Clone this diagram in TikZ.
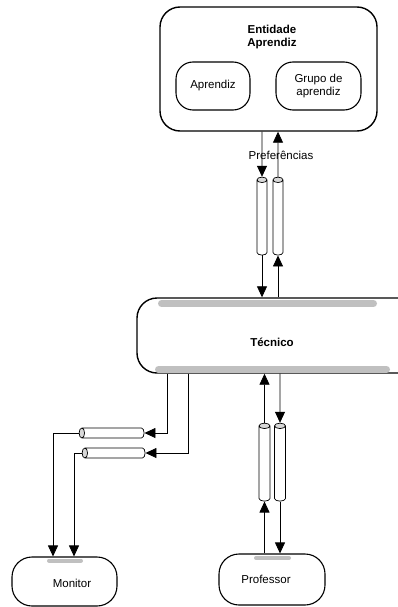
\documentclass[tikz,border=0pt]{standalone}
\usepackage{fontspec}
\setmainfont{Liberation Sans}
\usetikzlibrary{shapes.geometric, arrows.meta, positioning}
\definecolor{BarGray}{HTML}{C0C0C0}
\definecolor{CapGray}{HTML}{D8D8D8}
\tikzset{
    % Node styles
    entitybox/.style={
        rectangle,
        rounded corners=20pt,
        draw=black,
        line width=1.4pt,
        inner sep=0pt
    },
    rolebox/.style={
        rectangle,
        rounded corners=17pt,
        draw=black,
        line width=1.1pt,
        inner sep=0pt,
        align=center,
        font=\fontsize{11.5}{13}\selectfont
    },
    titletext/.style={
        align=center,
        inner sep=0pt,
        font=\fontsize{11.5}{13}\selectfont\bfseries
    },
    plaintext/.style={
        inner sep=0pt,
        font=\fontsize{11.5}{13}\selectfont
    },
    pipe/.style={
        cylinder,
        draw=black,
        line width=0.7pt,
        aspect=0.6,
        inner sep=4.5pt,
        cylinder uses custom fill,
        cylinder body fill=white,
        cylinder end fill=CapGray
    },
    vpipe/.style={pipe, shape border rotate=90, minimum width=#1, minimum height=78pt},
    vpipe/.default=10pt,
    hpipe/.style={pipe, shape border rotate=180, minimum width=10pt, minimum height=#1},
    % Arrow and bar styles
    myarrow/.style={
        -{Triangle[width=10pt,length=11pt]},
        line width=0.8pt
    },
    graybar/.style={
        draw=BarGray,
        line cap=round
    }
}
\begin{document}
\begin{tikzpicture}[x=1pt, y=-1pt]
    \useasboundingbox (0,0) rectangle (398,607);

    % Entidade aprendiz
    \node[entitybox, minimum width=217pt, minimum height=124pt] (entidade) at (268.5,69) {};
    \node[titletext] (entidadetitle) at (272,37) {Entidade\\Aprendiz};
    \node[rolebox, minimum width=74pt, minimum height=48pt] (aprendiz) at (213,86) {Aprendiz};
    \node[rolebox, minimum width=85pt, minimum height=48pt] (grupo) at (318.5,86) {Grupo de\\aprendiz};

    % Tecnico
    \node[entitybox, minimum width=290pt, minimum height=75pt] (tecnico) at (282,335.5) {};
    \node[titletext] (tecnicolabel) at (272,342) {Técnico};
    \draw[graybar, line width=7pt] (161.5,303.5) -- (373.5,303.5);
    \draw[graybar, line width=7pt] (158.5,369.5) -- (386.5,369.5);

    % Monitor and Professor
    \node[rolebox, rounded corners=20pt, minimum width=105pt, minimum height=49pt] (monitor) at (64.5,581.5) {};
    \node[plaintext] (monitorlabel) at (72,583) {Monitor};
    \draw[graybar, line width=4pt] (49,560.5) -- (81,560.5);
    \node[rolebox, rounded corners=20pt, minimum width=106pt, minimum height=51pt] (professor) at (272,579.5) {};
    \node[plaintext] (professorlabel) at (266,579) {Professor};
    \draw[graybar, line width=4pt] (256,558) -- (289,558);

    % Pipes
    \node[vpipe] (cylA) at (262,219) {};
    \node[vpipe] (cylB) at (278,219) {};
    \node[plaintext] (prefs) at (281,155) {Preferências};
    \node[vpipe=11pt] (cylC) at (264.5,465) {};
    \node[vpipe=11pt] (cylD) at (280,465) {};
    \node[hpipe=65pt] (cylE) at (114.5,433) {};
    \node[hpipe=63pt] (cylF) at (116.5,453) {};

    % Entidade <-> Tecnico
    \draw[myarrow] (entidade.south -| cylA) -- (cylA.north);
    \draw[myarrow] (cylA.south) -- (tecnico.north -| cylA);
    \draw[myarrow] (tecnico.north -| cylB) -- (cylB.south);
    \draw[myarrow] (cylB.north) -- (entidade.south -| cylB);

    % Tecnico <-> Professor
    \draw[myarrow] (cylC.north) -- (tecnico.south -| cylC);
    \draw[myarrow] (tecnico.south -| cylD) -- (cylD.north);
    \draw[myarrow] (professor.north -| cylC) -- (cylC.south);
    \draw[myarrow] (cylD.south) -- (professor.north -| cylD);

    % Tecnico -> Monitor
    \draw[myarrow] ([xshift=31pt]tecnico.south west) |- (cylE.east);
    \draw[myarrow] ([xshift=52pt]tecnico.south west) |- (cylF.east);
    \draw[myarrow] (cylE.west) -| ([xshift=-11.5pt]monitor.north);
    \draw[myarrow] (cylF.west) -| ([xshift=9.5pt]monitor.north);
\end{tikzpicture}
\end{document}
